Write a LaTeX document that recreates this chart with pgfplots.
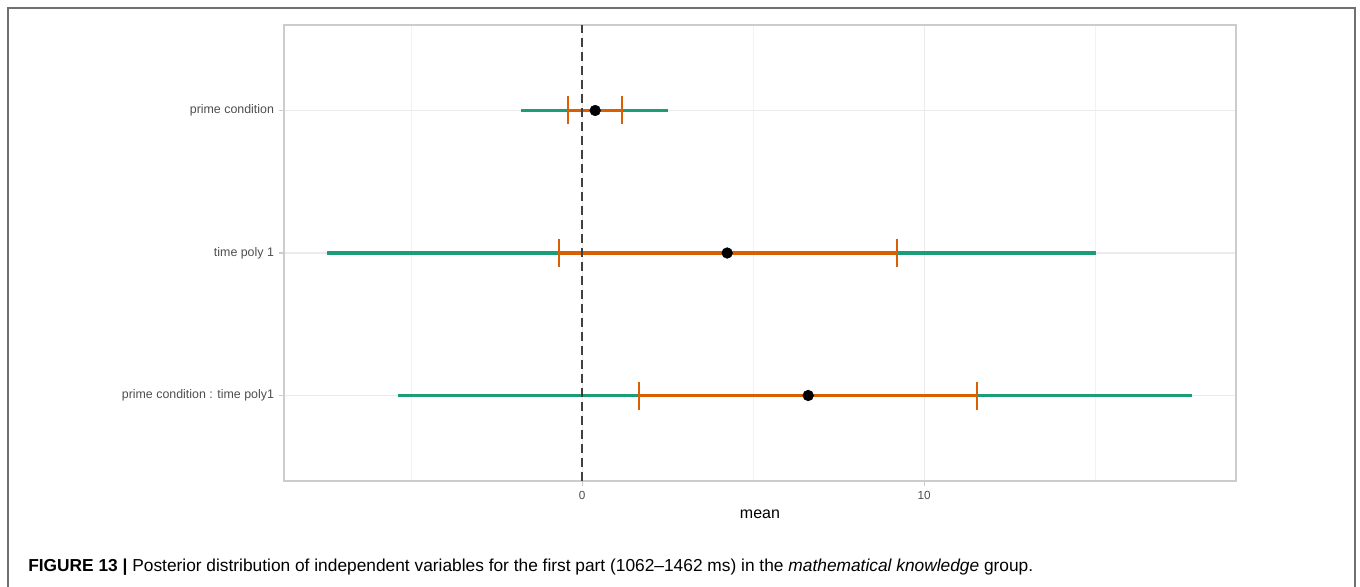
\documentclass[border=0pt]{standalone}
\usepackage{fontspec}
\setmainfont{Liberation Sans}
\usepackage{pgfplots}
\pgfplotsset{compat=1.18}
\definecolor{dgreen}{HTML}{1B9E77}
\definecolor{dorange}{HTML}{D95F02}
\definecolor{tickgray}{HTML}{4D4D4D}
\definecolor{framegray}{HTML}{707070}
\begin{document}
\begin{tikzpicture}
\useasboundingbox (0pt,0pt) rectangle (1020pt,439.5pt);
\draw[framegray, line width=1.5pt] (6pt,-5pt) -- (6pt,433.5pt) -- (1016.25pt,433.5pt) -- (1016.25pt,-5pt);
\begin{axis}[
  at={(213pt,78.75pt)}, anchor=south west, scale only axis,
  width=714pt, height=342pt,
  xmin=-8.72, xmax=19.12, ymin=0.4, ymax=3.6,
  xtick={0,10}, xticklabels={0,10},
  minor xtick={-5,5,15},
  ytick={1,2,3},
  yticklabels={prime condition : time poly1, time poly 1, prime condition},
  xtick pos=bottom, ytick pos=left,
  grid=both,
  major grid style={draw=black!8, line width=0.8pt},
  minor grid style={draw=black!5, line width=0.6pt},
  tick align=outside, major tick length=4pt, minor tick length=0pt,
  tick style={draw=black!20, line width=0.8pt},
  axis line style={draw=black!20, line width=1pt},
  tick label style={font=\fontsize{9.3}{11}\selectfont, text=tickgray},
  xticklabel style={font=\fontsize{8.8}{10}\selectfont},
  xlabel={mean},
  xlabel style={font=\fontsize{12}{14}\selectfont, text=black, yshift=-1pt},
  clip=true,
]
% 95% intervals
\addplot[dgreen, line width=2.3pt] coordinates {(-1.78,3) (2.51,3)};
\addplot[dgreen, line width=2.3pt] coordinates {(-7.46,2) (15.03,2)};
\addplot[dgreen, line width=2.3pt] coordinates {(-5.38,1) (17.84,1)};
% 50% intervals
\addplot[dorange, line width=2.8pt, mark=|, mark size=10.5pt, mark options={line width=1.8pt}] coordinates {(-0.41,3) (1.17,3)};
\addplot[dorange, line width=2.8pt, mark=|, mark size=10.5pt, mark options={line width=1.8pt}] coordinates {(-0.67,2) (9.21,2)};
\addplot[dorange, line width=2.8pt, mark=|, mark size=10.5pt, mark options={line width=1.8pt}] coordinates {(1.67,1) (11.55,1)};
% zero line
\addplot[black!75, line width=1.5pt, dash pattern=on 6.75pt off 3.75pt] coordinates {(0,0.4) (0,3.6)};
% means
\addplot[only marks, mark=*, mark size=4pt, black] coordinates {(0.38,3) (4.24,2) (6.61,1)};
\end{axis}
\node[anchor=base west, inner sep=0, font=\fontsize{13}{15}\selectfont] at (21pt,11.25pt)
  {\textbf{FIGURE 13 |} Posterior distribution of independent variables for the first part (1062–1462 ms) in the \textit{mathematical knowledge} group.};
\end{tikzpicture}
\end{document}
